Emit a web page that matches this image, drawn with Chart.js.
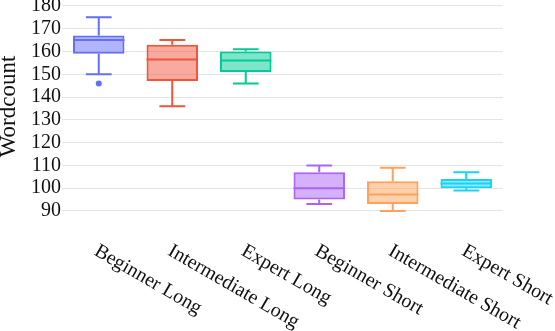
<!DOCTYPE html>
<html>
<head>
<meta charset="utf-8">
<script src="https://cdn.jsdelivr.net/npm/chart.js@4/dist/chart.umd.min.js"></script>
<style>
  body { margin: 0; background: #fff; }
  canvas { display: block; }
</style>
</head>
<body>
<canvas id="wordcount_box" width="555" height="331"></canvas>
<script>
const categories = ['Beginner Long', 'Intermediate Long', 'Expert Long', 'Beginner Short', 'Intermediate Short', 'Expert Short']
const lowerWhisker = [150, 136, 146, 93, 90, 99]
const q1 = [159, 147, 151, 95, 93, 100]
const median = [165, 156.5, 156, 100, 97.2, 102]
const q3 = [167, 163, 160, 107, 103, 104]
const upperWhisker = [175, 165, 161, 110, 109, 107]
const outliers = [[146], [], [], [], [], []]
const colors = ['#636efa', '#ef553b', '#00cc96', '#ab63fa', '#ffa15a', '#19d3f3']
const yTicks = [90, 100, 110, 120, 130, 140, 150, 160, 170, 180]

const fontFamily = "'Liberation Serif', 'Times New Roman', serif"

// medians, whiskers, caps and outliers drawn on top of the floating bars
const boxParts = {
    id: 'boxParts',
    afterDatasetsDraw(chart) {
        const { ctx, scales: { x, y } } = chart
        const bars = chart.getDatasetMeta(0).data
        ctx.save()
        ctx.lineWidth = 2
        categories.forEach((c, i) => {
            const cx = x.getPixelForValue(i)
            const half = bars[i].width / 2
            ctx.strokeStyle = colors[i]
            ctx.fillStyle = colors[i]
            ctx.beginPath()
            ctx.moveTo(cx - half, y.getPixelForValue(median[i]))
            ctx.lineTo(cx + half, y.getPixelForValue(median[i]))
            ctx.moveTo(cx, y.getPixelForValue(q3[i]))
            ctx.lineTo(cx, y.getPixelForValue(upperWhisker[i]))
            ctx.moveTo(cx, y.getPixelForValue(q1[i]))
            ctx.lineTo(cx, y.getPixelForValue(lowerWhisker[i]))
            ctx.moveTo(cx - half / 2, y.getPixelForValue(upperWhisker[i]))
            ctx.lineTo(cx + half / 2, y.getPixelForValue(upperWhisker[i]))
            ctx.moveTo(cx - half / 2, y.getPixelForValue(lowerWhisker[i]))
            ctx.lineTo(cx + half / 2, y.getPixelForValue(lowerWhisker[i]))
            ctx.stroke()
            outliers[i].forEach(v => {
                ctx.beginPath()
                ctx.arc(cx, y.getPixelForValue(v), 3, 0, Math.PI * 2)
                ctx.fill()
            })
        })
        ctx.restore()
    }
}

// slanted category labels, starting at the tick and running down to the right
const slantedLabels = {
    id: 'slantedLabels',
    afterDraw(chart) {
        const { ctx, scales: { x }, chartArea } = chart
        ctx.save()
        ctx.font = '20px ' + fontFamily
        ctx.fillStyle = '#111'
        ctx.textAlign = 'left'
        ctx.textBaseline = 'top'
        categories.forEach((c, i) => {
            ctx.save()
            ctx.translate(x.getPixelForValue(i) + 2, chartArea.bottom + 28)
            ctx.rotate(Math.PI / 6)
            ctx.fillText(c, 0, 0)
            ctx.restore()
        })
        ctx.restore()
    }
}

const ctx = document.getElementById('wordcount_box').getContext('2d')

new Chart(ctx, {
    type: 'bar',
    data: {
        labels: categories,
        datasets: [{
            label: 'Wordcount',
            data: q1.map((v, i) => [v, q3[i]]),
            backgroundColor: colors.map(c => c + '80'),
            borderColor: colors,
            borderWidth: 2,
            borderSkipped: false,
            categoryPercentage: 0.7,
            barPercentage: 1
        }]
    },
    options: {
        responsive: false,
        animation: false,
        layout: { padding: { top: 0, right: 52, left: 0, bottom: 0 } },
        scales: {
            x: {
                grid: { display: false },
                border: { display: false },
                ticks: { display: false },
                afterFit(scale) {
                    scale.height = 118
                    scale.paddingLeft = 0
                    scale.paddingRight = 0
                }
            },
            y: {
                min: 89.1,
                max: 182.6,
                grid: { color: '#e4e4e4', drawTicks: false },
                border: { display: false },
                ticks: {
                    padding: 1,
                    autoSkip: false,
                    color: '#111',
                    font: { family: fontFamily, size: 20 }
                },
                afterBuildTicks(scale) {
                    scale.ticks = yTicks.map(v => ({ value: v }))
                },
                afterFit(scale) {
                    scale.width = 62
                    scale.paddingTop = 0
                    scale.paddingBottom = 0
                },
                title: {
                    display: true,
                    text: 'Wordcount',
                    color: '#111',
                    padding: 0,
                    font: { family: fontFamily, size: 23, lineHeight: 0.8 }
                }
            }
        },
        plugins: {
            legend: { display: false },
            tooltip: { enabled: false }
        }
    },
    plugins: [boxParts, slantedLabels]
})
</script>
</body>
</html>
